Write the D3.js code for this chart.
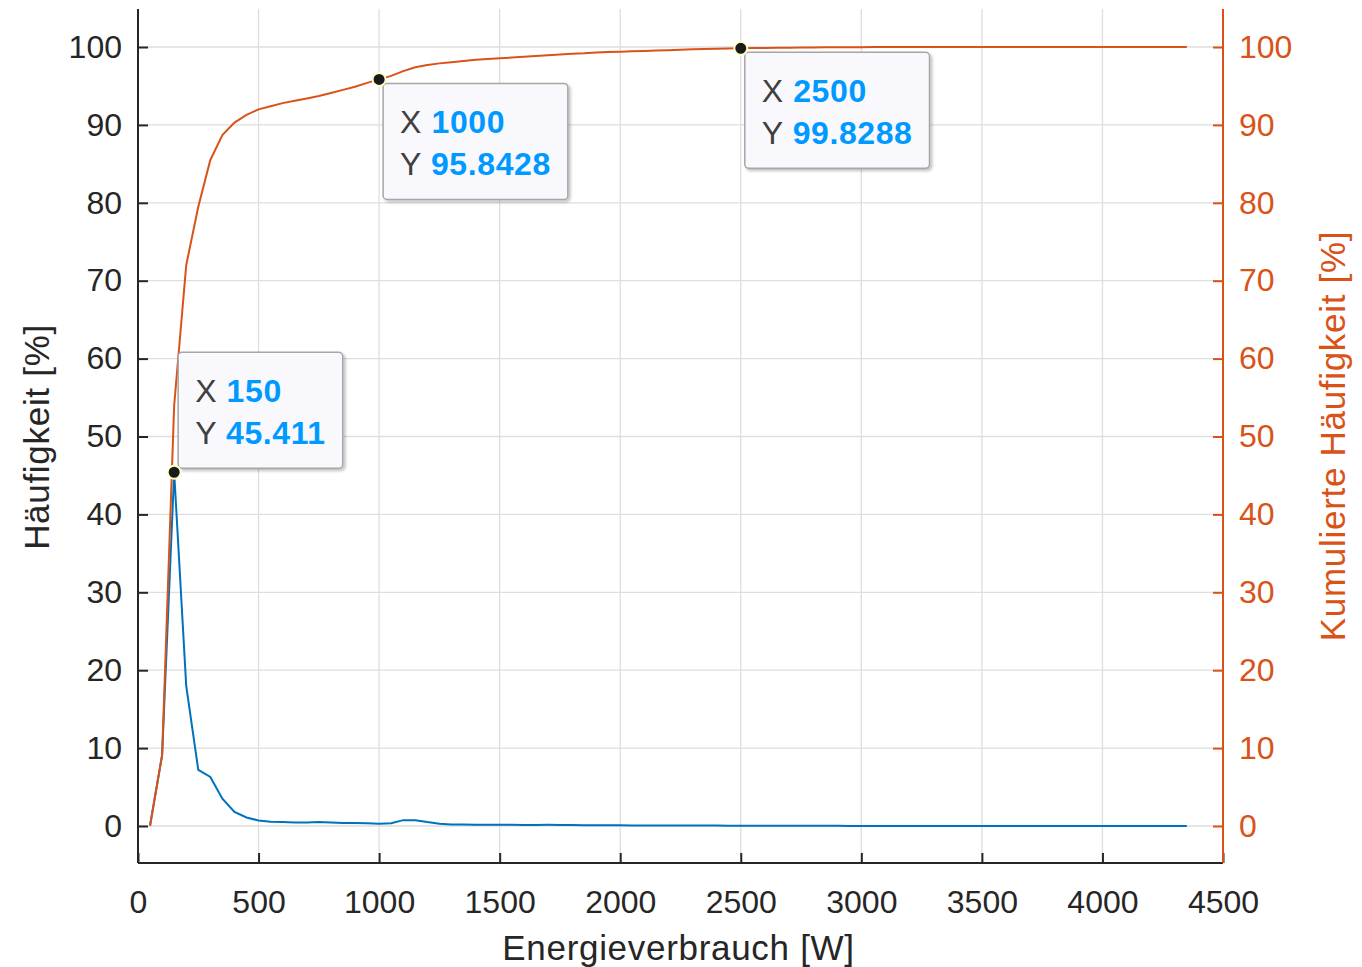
<!DOCTYPE html>
<html><head><meta charset="utf-8">
<script src="https://cdn.jsdelivr.net/npm/d3@7"></script>
<style>
body{margin:0;background:#fff}
text{font-family:"Liberation Sans",Arial,Helvetica,sans-serif}
</style>
</head><body>
<svg id="chart" width="1362" height="967"></svg>
<script>
// ---- data ----
const energy = [
  50,100,150,200,250,300,350,400,450,500,
  550,600,650,700,750,800,850,900,950,1000,
  1050,1100,1150,1200,1250,1300,1350,1400,1450,1500,
  1550,1600,1650,1700,1750,1800,1850,1900,1950,2000,
  2050,2100,2150,2200,2250,2300,2350,2400,2450,2500,
  2550,2600,2650,2700,2750,2800,2850,2900,2950,3000,
  3050,3100,3150,3200,3250,3300,3350,3400,3450,3500,
  3550,3600,3650,3700,3750,3800,3850,3900,3950,4000,
  4050,4100,4150,4200,4250,4300,4350
];
const frequency = [
  0.1,9.1,45.411,18.0,7.2,6.3,3.5,1.8,1.1,0.7,
  0.55,0.5,0.45,0.45,0.5,0.45,0.4,0.4,0.35,0.3,
  0.35,0.75,0.75,0.5,0.3,0.2,0.18,0.17,0.16,0.15,
  0.15,0.14,0.14,0.15,0.13,0.12,0.11,0.1,0.1,0.09,
  0.08,0.08,0.07,0.07,0.06,0.06,0.05,0.05,0.04,0.04,
  0.04,0.03,0.03,0.03,0.02,0.02,0.02,0.02,0.01,0.01,
  0.01,0.01,0.01,0.01,0,0.01,0,0,0.01,0,
  0,0,0.01,0,0,0,0,0,0,0,
  0,0,0,0,0,0,0
];
const cumulative = [
  0,9.1,54.0,72.0,79.5,85.5,88.7,90.3,91.3,92.0,
  92.4,92.8,93.1,93.4,93.7,94.1,94.5,94.9,95.4,95.8428,
  96.3,96.9,97.4,97.7,97.9,98.05,98.2,98.35,98.45,98.55,
  98.65,98.75,98.85,98.95,99.05,99.15,99.2,99.3,99.35,99.4,
  99.45,99.5,99.55,99.6,99.65,99.7,99.74,99.77,99.8,99.8288,
  99.86,99.88,99.9,99.92,99.94,99.95,99.96,99.97,99.98,99.98,
  99.99,99.99,99.99,99.99,99.99,100,100,100,100,100,
  100,100,100,100,100,100,100,100,100,100,
  100,100,100,100,100,100,100
];
const xTicks = [0,500,1000,1500,2000,2500,3000,3500,4000,4500];
const yTicks = [0,10,20,30,40,50,60,70,80,90,100];
const tipX = [150,1000,2500];
const tipY = [45.411,95.8428,99.8288];
const tipSeries = ["frequency","cumulative","cumulative"];
const xLabel = "Energieverbrauch [W]";
const yLabelLeft = "Häufigkeit [%]";
const yLabelRight = "Kumulierte Häufigkeit [%]";

// ---- layout ----
const L = 138, R = 1223, T = 9, B = 863;
const BLUE = "#0072BD", ORANGE = "#D95319", AXIS = "#262626";
const TIP_VAL = "#0099FF", TIP_LBL = "#404040";

const svg = d3.select("#chart");
const x = d3.scaleLinear().domain([0,4500]).range([L,R]);
const y = d3.scaleLinear().domain([-4.75,104.88]).range([B,T]);

// grid
const grid = svg.append("g");
grid.selectAll(".gx").data(xTicks).join("line")
  .attr("x1",d=>x(d)).attr("x2",d=>x(d)).attr("y1",T).attr("y2",B)
  .attr("stroke","#dedede").attr("stroke-width",1.3);
grid.selectAll(".gy").data(yTicks).join("line")
  .attr("x1",L).attr("x2",R).attr("y1",d=>y(d)).attr("y2",d=>y(d))
  .attr("stroke","#dedede").attr("stroke-width",1.3);

// lines
const pts = (vals)=>energy.map((e,i)=>[e,vals[i]]);
const line = d3.line().x(d=>x(d[0])).y(d=>y(d[1]));
svg.append("path").attr("d",line(pts(frequency)))
  .attr("fill","none").attr("stroke",BLUE).attr("stroke-width",2);
svg.append("path").attr("d",line(pts(cumulative)))
  .attr("fill","none").attr("stroke",ORANGE).attr("stroke-width",2);

// axes
const fontTick = 32;
const ax = svg.append("g").attr("transform",`translate(0,${B})`)
  .call(d3.axisBottom(x).tickValues(xTicks).tickFormat(d3.format("d")).tickSizeInner(-10).tickSizeOuter(0).tickPadding(27));
const ayl = svg.append("g").attr("transform",`translate(${L},0)`)
  .call(d3.axisLeft(y).tickValues(yTicks).tickSizeInner(-10).tickSizeOuter(0).tickPadding(16));
const ayr = svg.append("g").attr("transform",`translate(${R},0)`)
  .call(d3.axisRight(y).tickValues(yTicks).tickSizeInner(-10).tickSizeOuter(0).tickPadding(16));
[ax,ayl].forEach(g=>{
  g.select(".domain").attr("stroke",AXIS).attr("stroke-width",2);
  g.selectAll(".tick line").attr("stroke",AXIS).attr("stroke-width",2);
  g.selectAll(".tick text").attr("fill",AXIS).attr("font-size",fontTick).attr("font-family",null);
});
ayr.select(".domain").attr("stroke",ORANGE).attr("stroke-width",2);
ayr.selectAll(".tick line").attr("stroke",ORANGE).attr("stroke-width",2);
ayr.selectAll(".tick text").attr("fill",ORANGE).attr("font-size",fontTick).attr("font-family",null);
ayl.select(".domain").attr("d",`M0,${B}V${T}`);
ayr.select(".domain").attr("d",`M0,${B}V${T}`);
ax.select(".domain").attr("d",`M${L},0H${R}`);
ax.selectAll(".tick text").attr("dy","0.71em");

// axis titles
const fontTitle = 35;
const titleSpacing = 0.7;
svg.append("text").attr("x",(L+R)/2 - 2).attr("y",960).attr("text-anchor","middle")
  .attr("font-size",fontTitle).attr("letter-spacing",titleSpacing).attr("fill",AXIS).text(xLabel);
svg.append("text").attr("transform",`translate(49,437) rotate(-90)`).attr("text-anchor","middle")
  .attr("font-size",fontTitle).attr("letter-spacing",titleSpacing).attr("fill",AXIS).text(yLabelLeft);
svg.append("text").attr("transform",`translate(1345,436) rotate(-90)`).attr("text-anchor","middle")
  .attr("font-size",fontTitle).attr("letter-spacing",titleSpacing).attr("fill",ORANGE).text(yLabelRight);

// datatips
const defs = svg.append("defs");
const f = defs.append("filter").attr("id","sh").attr("x","-10%").attr("y","-10%").attr("width","130%").attr("height","130%");
f.append("feDropShadow").attr("dx",2).attr("dy",2).attr("stdDeviation",1.5).attr("flood-color","#000").attr("flood-opacity",0.25);

const fontTip = 32;
tipX.forEach((tx,i)=>{
  const px = x(tx), py = y(tipY[i]);
  const up = tipSeries[i]==="frequency";
  const g = svg.append("g");
  const rect = g.append("rect");
  const t1 = g.append("text").attr("font-size",fontTip).attr("letter-spacing",0.6);
  t1.append("tspan").attr("fill",TIP_LBL).text("X ");
  t1.append("tspan").attr("fill",TIP_VAL).attr("font-weight","bold").text(String(tx));
  const t2 = g.append("text").attr("font-size",fontTip).attr("letter-spacing",0.6);
  t2.append("tspan").attr("fill",TIP_LBL).text("Y ");
  t2.append("tspan").attr("fill",TIP_VAL).attr("font-weight","bold").text(String(tipY[i]));
  const w = Math.max(t1.node().getComputedTextLength(), t2.node().getComputedTextLength()) + 34;
  const h = 116;
  const bx = px + 4;
  const by = up ? py - 4 - h : py + 4;
  rect.attr("x",bx).attr("y",by).attr("width",w).attr("height",h).attr("rx",4)
    .attr("fill","#f9f9fd").attr("stroke","#a6a6a6").attr("stroke-width",1.5).attr("filter","url(#sh)");
  t1.attr("x",bx+17).attr("y",by+50);
  t2.attr("x",bx+17).attr("y",by+92);
  svg.append("circle").attr("cx",px).attr("cy",py).attr("r",6.5)
    .attr("fill","#1a1a1a").attr("stroke","#ffffcc").attr("stroke-width",2);
});
</script>
</body></html>
